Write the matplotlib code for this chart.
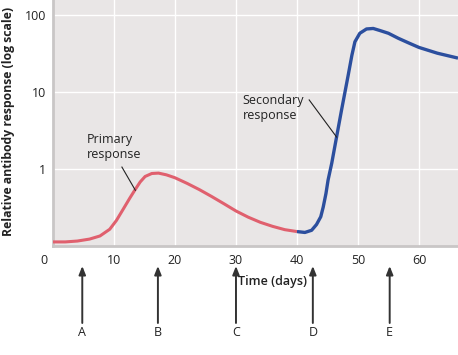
import matplotlib
matplotlib.use("Agg")
import matplotlib.pyplot as plt
import matplotlib.transforms as mtransforms

plt.rcParams['font.family'] = ['Open Sans', 'DejaVu Sans']

# Primary response (red)
primary_days = [0, 2, 4, 6, 7.7, 9.3, 10.4, 11.5, 12.6, 13.4, 14.3, 15.1, 16.2, 17.3, 18.6, 20, 22, 24, 26, 28, 30, 32, 34, 36, 38, 40]
primary_vals = [0.113, 0.113, 0.116, 0.123, 0.135, 0.165, 0.215, 0.3, 0.42, 0.53, 0.68, 0.8, 0.875, 0.885, 0.84, 0.77, 0.65, 0.54, 0.44, 0.355, 0.285, 0.237, 0.203, 0.18, 0.163, 0.154]

# Secondary response (blue)
secondary_days = [40, 41.3, 42.4, 43.2, 43.9, 44.3, 44.75, 45.1, 45.7, 46.1, 47.3, 48.4, 49.0, 49.5, 50.3, 51.4, 52.5, 53.6, 55, 56.6, 58.3, 60, 63, 66.4]
secondary_vals = [0.154, 0.15, 0.16, 0.19, 0.24, 0.32, 0.48, 0.72, 1.19, 1.77, 5.8, 16.6, 30, 45, 58, 66, 67, 63, 58, 50, 43.5, 38, 32, 27.6]

x_ticks = [0, 10, 20, 30, 40, 50, 60]
y_ticks = [1, 10, 100]
y_tick_labels = ['1', '10', '100']

arrow_labels = ['A', 'B', 'C', 'D', 'E']
arrow_days = [4.8, 17.2, 30, 42.6, 55.2]

W, H = 458, 355
fig = plt.figure(figsize=(W / 100, H / 100), dpi=100)
ax = fig.add_axes([53 / W, (H - 246) / H, 1 - 53 / W, 246 / H])
ax.set_facecolor('#e9e6e6')

ax.set_yscale('log')
ax.set_xlim(0, 66.4)
ax.set_ylim(0.1, 157)

ax.plot(primary_days, primary_vals, color='#e0606e', lw=2.2, solid_capstyle='butt',
        solid_joinstyle='round', zorder=3)
ax.plot(secondary_days, secondary_vals, color='#2c4f9e', lw=2.4, solid_capstyle='butt',
        solid_joinstyle='round', zorder=3)

ax.set_xticks(x_ticks)
ax.set_yticks(y_ticks)
ax.set_yticklabels(y_tick_labels)
ax.minorticks_off()
ax.grid(True, color='white', lw=1.0, zorder=0)
ax.set_axisbelow(True)
ax.tick_params(length=0, labelsize=9, colors='#222222', pad=5)
ax.tick_params(axis='x', pad=6)

# shift the "0" label a bit left
off = mtransforms.ScaledTranslation(-9 / 100, 0, fig.dpi_scale_trans)
for lab in ax.xaxis.get_majorticklabels()[:1]:
    lab.set_transform(lab.get_transform() + off)

for s in ['top', 'right']:
    ax.spines[s].set_visible(False)
for s in ['left', 'bottom']:
    ax.spines[s].set_color('#c9c6c6')
    ax.spines[s].set_linewidth(2)

# annotations
ax.text(5.6, 1.93, 'Primary\nresponse', fontsize=9, color='#222222', va='center', ha='left', linespacing=1.2)
ax.plot([11.3, 13.5], [1.06, 0.53], color='#222222', lw=0.8, zorder=4)
ax.text(31.1, 6.2, 'Secondary\nresponse', fontsize=9, color='#222222', va='center', ha='left', linespacing=1.2)
ax.plot([42.0, 46.5], [7.9, 2.6], color='#222222', lw=0.8, zorder=4)

# x label
ax.annotate('Time (days)', xy=(36, (H - 281) / H), xycoords=('data', 'figure fraction'),
            ha='center', va='center', fontsize=9, fontweight='semibold', color='#222222',
            annotation_clip=False)

# y label
fig.text(9 / W, (H - 121) / H, 'Relative antibody response (log scale)', rotation=90,
         ha='center', va='center', fontsize=8.8, fontweight='bold', color='#222222')

# arrows
for lab, d in zip(arrow_labels, arrow_days):
    ax.annotate('', xy=(d, (H - 266) / H), xytext=(d, (H - 323) / H),
                xycoords=('data', 'figure fraction'), textcoords=('data', 'figure fraction'),
                arrowprops=dict(arrowstyle='-|>,head_length=0.5,head_width=0.2', color='#333333', lw=1.4,
                                shrinkA=0, shrinkB=0),
                annotation_clip=False)
    ax.annotate(lab, xy=(d, (H - 333) / H), xycoords=('data', 'figure fraction'),
                ha='center', va='center', fontsize=9, color='#222222', annotation_clip=False)

fig.savefig('out.png', dpi=100)
